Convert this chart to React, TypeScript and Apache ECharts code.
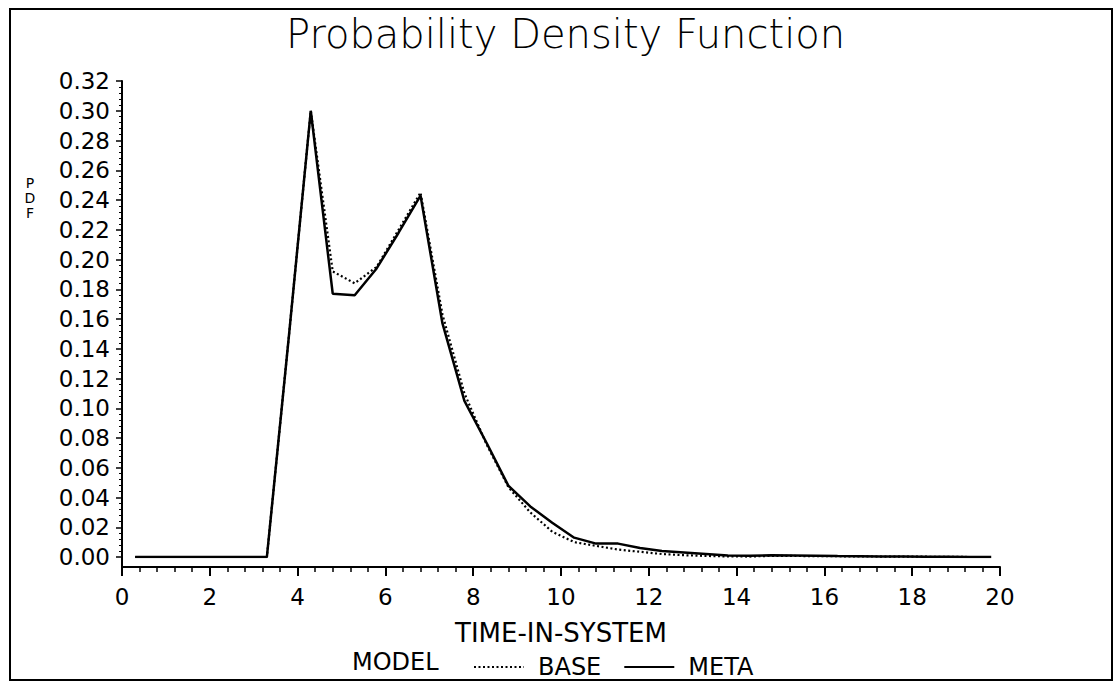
import React, { useEffect, useRef } from "react";
import * as echarts from "echarts";

const TITLE = "Probability Density Function";
const X_NAME = "TIME-IN-SYSTEM";
const Y_NAME = "PDF";
const LEGEND_TITLE = "MODEL";

const timeValues = [
  0.3, 0.8, 1.3, 1.8, 2.3, 2.8, 3.3, 3.8, 4.3, 4.8, 5.3, 5.8, 6.3, 6.8, 7.3, 7.8,
  8.3, 8.8, 9.3, 9.8, 10.3, 10.8, 11.3, 11.8, 12.3, 12.8, 13.3, 13.8, 14.3, 14.8,
  15.3, 15.8, 16.3, 16.8, 17.3, 17.8, 18.3, 18.8, 19.3, 19.8,
];

const basePdf = [
  0, 0, 0, 0, 0, 0, 0, 0.148, 0.3, 0.192, 0.184, 0.195, 0.22, 0.245, 0.163, 0.11,
  0.076, 0.047, 0.03, 0.017, 0.01, 0.0075, 0.005, 0.0035, 0.002, 0.0012, 0.0007,
  0.0004, 0.0003, 0.0008, 0.0007, 0.0006, 0.0005, 0.0004, 0.0003, 0.0003, 0.0002,
  0.0001, 0, 0,
];

const metaPdf = [
  0, 0, 0, 0, 0, 0, 0, 0.148, 0.3, 0.177, 0.176, 0.194, 0.218, 0.243, 0.157, 0.105,
  0.077, 0.048, 0.034, 0.023, 0.013, 0.009, 0.009, 0.006, 0.004, 0.003, 0.002,
  0.001, 0.0008, 0.0012, 0.001, 0.0008, 0.0006, 0.0005, 0.0004, 0.0003, 0.0002,
  0.0001, 0, 0,
];

const seriesNames = ["BASE", "META"];

const FONT = "DejaVu Sans";

export default function App() {
  const ref = useRef<HTMLDivElement>(null);

  useEffect(() => {
    if (!ref.current) return;
    const chart = echarts.init(ref.current, undefined, { renderer: "svg" });
    const basePts = timeValues.map((t, i) => [t, basePdf[i]]);
    const metaPts = timeValues.map((t, i) => [t, metaPdf[i]]);

    const yNameLetters = Y_NAME.split("").map((ch, i) => ({
      type: "text",
      x: 30,
      y: 183 + i * 15,
      style: {
        text: ch,
        font: `14px '${FONT}'`,
        fill: "#000",
        align: "center",
        verticalAlign: "middle",
      },
      silent: true,
    }));

    chart.setOption({
      animation: false,
      backgroundColor: "#ffffff",
      textStyle: { fontFamily: FONT, color: "#000" },
      title: {
        text: TITLE,
        left: 286,
        top: 14,
        padding: 0,
        textStyle: { fontFamily: FONT, fontSize: 40, fontWeight: 200, color: "#000" },
      },
      legend: {
        left: 468,
        top: 650,
        itemWidth: 50,
        itemHeight: 14,
        itemGap: 22,
        data: seriesNames,
        itemStyle: { opacity: 0 },
        textStyle: { fontFamily: FONT, fontSize: 24, color: "#000", padding: [0, 0, 0, 9] },
      },
      grid: { left: 122, right: 115, top: 81, bottom: 128 },
      xAxis: {
        type: "value",
        min: 0,
        max: 20,
        interval: 2,
        offset: 10,
        name: X_NAME,
        nameLocation: "middle",
        nameGap: 53,
        nameTextStyle: { fontFamily: FONT, fontSize: 26, color: "#000" },
        axisLine: { show: true, onZero: false, lineStyle: { color: "#000", width: 2 } },
        axisTick: { show: true, inside: false, length: 9, lineStyle: { color: "#000", width: 2 } },
        minorTick: { show: true, splitNumber: 5, length: 5, lineStyle: { color: "#000", width: 1.5 } },
        axisLabel: { margin: 18, fontFamily: FONT, fontSize: 23, color: "#000" },
        splitLine: { show: false },
        minorSplitLine: { show: false },
      },
      yAxis: {
        type: "value",
        min: 0,
        max: 0.32,
        interval: 0.02,
        axisLine: { show: true, lineStyle: { color: "#000", width: 2 } },
        axisTick: { show: true, inside: false, length: 6, lineStyle: { color: "#000", width: 1.5 } },
        minorTick: { show: true, splitNumber: 5, length: 3, lineStyle: { color: "#000", width: 1 } },
        axisLabel: {
          margin: 12,
          fontFamily: FONT,
          fontSize: 23,
          color: "#000",
          formatter: (v: number) => v.toFixed(2),
        },
        splitLine: { show: false },
        minorSplitLine: { show: false },
      },
      series: [
        {
          name: seriesNames[0],
          type: "line",
          data: basePts,
          symbol: "none",
          lineStyle: { color: "#000", width: 2.2, type: [2, 2.5] },
          itemStyle: { color: "#000" },
          z: 2,
        },
        {
          name: seriesNames[1],
          type: "line",
          data: metaPts,
          symbol: "none",
          lineStyle: { color: "#000", width: 2.5, type: "solid" },
          itemStyle: { color: "#000" },
          z: 3,
        },
      ],
      graphic: [
        {
          type: "rect",
          shape: { x: 10, y: 9, width: 1102, height: 671 },
          style: { fill: "none", stroke: "#000", lineWidth: 2 },
          silent: true,
        },
        {
          type: "line",
          shape: { x1: 122, y1: 556, x2: 122, y2: 568 },
          style: { stroke: "#000", lineWidth: 2 },
          silent: true,
        },
        ...yNameLetters,
        {
          type: "text",
          left: 352,
          top: 650,
          style: { text: LEGEND_TITLE, font: `24px '${FONT}'`, fill: "#000" },
          silent: true,
        },
      ],
    });

    return () => chart.dispose();
  }, []);

  return (
    <div
      ref={ref}
      style={{ position: "fixed", left: 0, top: 0, width: 1115, height: 685, background: "#fff" }}
    />
  );
}
